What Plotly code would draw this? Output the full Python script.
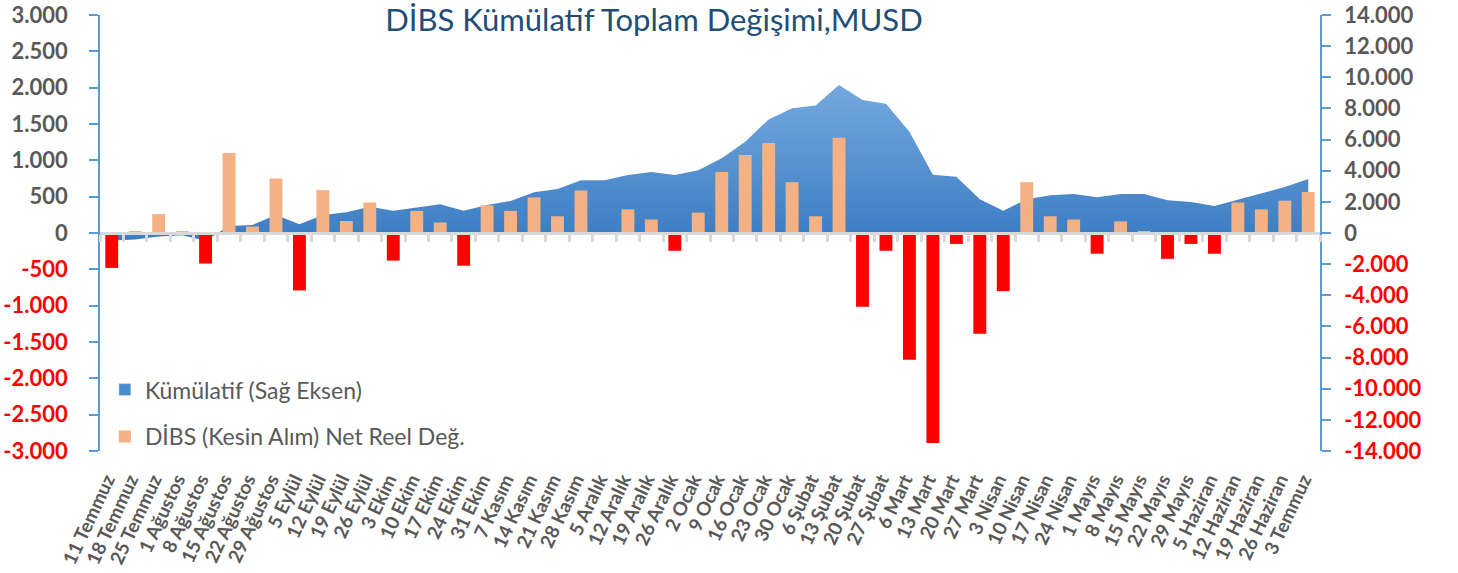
import plotly.graph_objects as go

categories = ["11 Temmuz", "18 Temmuz", "25 Temmuz", "1 Ağustos", "8 Ağustos", "15 Ağustos",
              "22 Ağustos", "29 Ağustos", "5 Eylül", "12 Eylül", "19 Eylül", "26 Eylül",
              "3 Ekim", "10 Ekim", "17 Ekim", "24 Ekim", "31 Ekim", "7 Kasım", "14 Kasım",
              "21 Kasım", "28 Kasım", "5 Aralık", "12 Aralık", "19 Aralık", "26 Aralık",
              "2 Ocak", "9 Ocak", "16 Ocak", "23 Ocak", "30 Ocak", "6 Şubat", "13 Şubat",
              "20 Şubat", "27 Şubat", "6 Mart", "13 Mart", "20 Mart", "27 Mart", "3 Nisan",
              "10 Nisan", "17 Nisan", "24 Nisan", "1 Mayıs", "8 Mayıs", "15 Mayıs", "22 Mayıs",
              "29 Mayıs", "5 Haziran", "12 Haziran", "19 Haziran", "26 Haziran", "3 Temmuz"]

dibs_net = [-480, 20, 260, 20, -420, 1100, 90, 750, -790, 590, 165, 420, -380, 305, 145, -450,
            380, 305, 490, 230, 585, -10, 325, 185, -245, 280, 840, 1075, 1240, 700, 230, 1310,
            -1015, -245, -1745, -2890, -150, -1385, -800, 700, 230, 185, -285, 160, 15, -355,
            -150, -285, 420, 325, 445, 565]

kumulatif = [-480, -420, -220, -150, -500, 450, 515, 1155, 555, 1155, 1325, 1690, 1435, 1650,
             1840, 1435, 1800, 2055, 2610, 2825, 3385, 3385, 3725, 3915, 3725, 4025, 4795, 5860,
             7295, 8005, 8195, 9500, 8540, 8305, 6505, 3745, 3615, 2165, 1435, 2165, 2420, 2505,
             2290, 2505, 2505, 2100, 1990, 1735, 2140, 2525, 2955, 3465]

left_ticks = list(range(-3000, 3001, 500))
right_ticks = list(range(-14000, 14001, 2000))

TITLE = "DİBS Kümülatif Toplam Değişimi,MUSD"
NAME_KUM = "Kümülatif (Sağ Eksen)"
NAME_DIBS = "DİBS (Kesin Alım) Net Reel Değ."

FONT = "Lato"
GRAY = "#595959"
RED = "#FF0000"
ORANGE = "#F4B183"
AXBLUE = "#5B9BD5"


def fmt(v):
    s = f"{abs(v):,}".replace(",", ".")
    if v < 0:
        return f'<span style="color:{RED}">-{s}</span>'
    return s


pos_vals = [v if v >= 0 else None for v in dibs_net]
neg_vals = [v if v < 0 else None for v in dibs_net]

fig = go.Figure()

# cumulative area (right axis scale) on main y axis (drawn underneath)
fig.add_trace(go.Scatter(
    x=categories, y=kumulatif, mode="lines", line=dict(width=0, color="#5B9BD5"),
    fill="tozeroy",
    fillgradient=dict(type="vertical",
                      colorscale=[[0, "#3B7CC2"], [1, "#74A9DF"]]),
    name=NAME_KUM, showlegend=False, xaxis="x", yaxis="y", hoverinfo="skip"))

# legend entries
fig.add_trace(go.Bar(x=[categories[0]], y=[None], name=NAME_KUM,
                     marker=dict(color="#4A8CCE"), xaxis="x", yaxis="y2",
                     legendgroup="a"))
fig.add_trace(go.Bar(x=categories, y=pos_vals, name=NAME_DIBS,
                     marker=dict(color=ORANGE, line=dict(width=0)),
                     xaxis="x", yaxis="y2", legendgroup="b"))
fig.add_trace(go.Bar(x=categories, y=neg_vals, name=NAME_DIBS, showlegend=False,
                     marker=dict(color=RED, line=dict(width=0)),
                     xaxis="x", yaxis="y2", legendgroup="b"))

# helper trace for the zero category axis line with boundary ticks
fig.add_trace(go.Scatter(x=categories, y=[None] * len(categories), mode="lines",
                         xaxis="x2", yaxis="y2", showlegend=False, hoverinfo="skip"))

fig.update_layout(
    width=1458, height=573,
    margin=dict(l=100, r=138, t=15, b=122, autoexpand=False),
    paper_bgcolor="white", plot_bgcolor="white",
    barmode="relative", bargap=0.45,
    font=dict(family=FONT, color=GRAY),
    title=dict(text=TITLE, x=654 / 1458, xanchor="center", xref="container",
               y=1 - 31 / 573, yanchor="bottom", yref="container",
               font=dict(family=FONT, size=31, color="#1F4E79")),
    xaxis=dict(type="category", categoryorder="array", categoryarray=categories,
               range=[-0.5, len(categories) - 0.5], automargin=False,
               showline=False, showgrid=False, zeroline=False, ticks="",
               tickangle=-65, tickfont=dict(family=FONT, size=19, color=GRAY, weight="bold"),
               ticklabelstandoff=13, ticklabelshift=-5),
    xaxis2=dict(type="category", overlaying="x", matches="x", anchor="free", position=0.5,
                showline=True, linecolor="#D9D9D9", linewidth=3, automargin=False,
                ticks="outside", tickson="boundaries", ticklen=7, tickwidth=3,
                tickcolor="#D9D9D9", showticklabels=False, showgrid=False, zeroline=False),
    yaxis=dict(side="right", range=[-14000, 14000], tickvals=right_ticks,
               ticktext=[fmt(v) for v in right_ticks], automargin=False,
               ticklabeloverflow="allow",
               showline=True, linecolor=AXBLUE, linewidth=1.5,
               ticks="outside", ticklen=9, tickcolor=AXBLUE, tickwidth=1.5,
               showgrid=False, zeroline=False,
               tickfont=dict(family=FONT, size=22, color=GRAY, weight="bold"),
               ticklabelstandoff=9),
    yaxis2=dict(side="left", overlaying="y", range=[-3000, 3000], tickvals=left_ticks,
                ticktext=[fmt(v) for v in left_ticks], automargin=False,
                ticklabeloverflow="allow",
                showline=True, linecolor=AXBLUE, linewidth=1.5,
                ticks="outside", ticklen=9, tickcolor=AXBLUE, tickwidth=1.5,
                showgrid=False, zeroline=False,
                tickfont=dict(family=FONT, size=22, color=GRAY, weight="bold"),
                ticklabelstandoff=17),
    legend=dict(x=0.004, y=0.19, xanchor="left", yanchor="top",
                bgcolor="rgba(0,0,0,0)", font=dict(family=FONT, size=23, color=GRAY),
                tracegroupgap=14, itemwidth=30, traceorder="grouped"),
)

fig.write_html("out.html", config={"displayModeBar": False},
               post_script="document.body.style.margin='0';document.body.style.padding='0';")
